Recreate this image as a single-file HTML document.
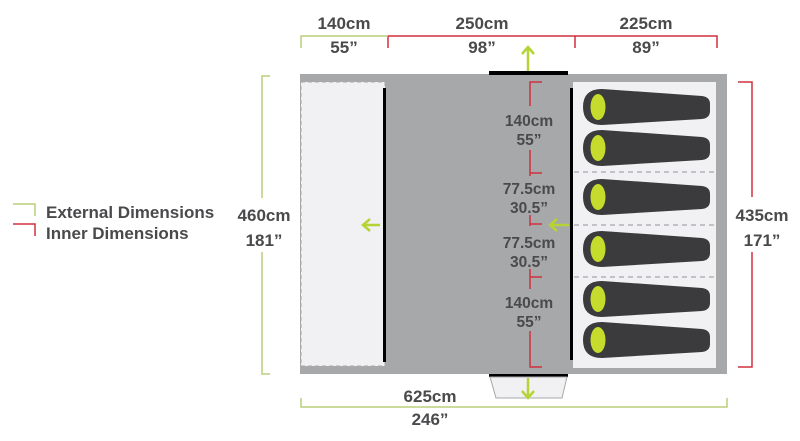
<!DOCTYPE html>
<html><head><meta charset="utf-8"><style>
html,body{margin:0;padding:0;background:#fff}
svg{display:block}
text{font-family:"Liberation Sans",sans-serif;font-weight:bold;fill:#4a4a4c}
</style></head><body>
<svg width="800" height="441" viewBox="0 0 800 441" xmlns="http://www.w3.org/2000/svg">
<defs>
<g id="bag">
<path d="M602,-18 L702,-11 Q710,-10 710,-3 L710,4 Q710,11 702,12 L602,18 Q583,18 583,0 Q583,-18 602,-18 Z" fill="#3b3b3d"/>
<ellipse cx="598" cy="0" rx="7.5" ry="13" fill="#c5dc2c"/>
</g>
</defs>
<rect x="300" y="74" width="427" height="300" fill="#a7a8aa"/>
<rect x="301" y="82" width="84" height="284" fill="#f1f1f3" stroke="#a7a8aa" stroke-dasharray="4,3"/>
<rect x="573" y="82" width="143" height="286" fill="#f1f1f3"/>
<g stroke="#a7a8aa" stroke-width="1.2" stroke-dasharray="5,4">
<line x1="574" y1="172" x2="716" y2="172"/>
<line x1="574" y1="225" x2="716" y2="225"/>
<line x1="574" y1="277" x2="716" y2="277"/>
</g>
<rect x="383" y="88" width="3" height="274" fill="#000"/>
<rect x="570" y="88" width="3" height="272" fill="#000"/>
<rect x="489" y="71" width="79" height="4" fill="#000"/>
<rect x="489" y="374" width="79" height="3" fill="#000"/>
<path d="M490,377 L567,377 L562,398 L496,398 Z" fill="#f1f1f3" stroke="#a7a8aa"/>
<use href="#bag" y="107"/><use href="#bag" y="148"/><use href="#bag" y="197"/>
<use href="#bag" y="249"/><use href="#bag" y="299"/><use href="#bag" y="340"/>
<g stroke="#b5d334" stroke-width="2.5" fill="none">
<line x1="528" y1="71" x2="528" y2="48"/><polyline points="522,54 528,47 534,54"/>
<line x1="380" y1="225" x2="364" y2="225"/><polyline points="370,219 363,225 370,231"/>
<line x1="569" y1="225" x2="551" y2="225"/><polyline points="557,219 550,225 557,231"/>
<line x1="528" y1="378" x2="528" y2="397"/><polyline points="522,391 528,398 534,391"/>
</g>
<g stroke="#d0303f" stroke-width="1.5" fill="none">
<polyline points="542,82 530,82 530,106"/>
<line x1="530" y1="150" x2="530" y2="176"/><line x1="530" y1="173" x2="542" y2="173"/>
<line x1="530" y1="215" x2="530" y2="226"/><line x1="530" y1="224" x2="542" y2="224"/>
<line x1="530" y1="269" x2="530" y2="289"/><line x1="530" y1="277" x2="542" y2="277"/>
<polyline points="530,331 530,367 542,367"/>
<polyline points="388,48 388,36 575,36 575,48"/>
<polyline points="575,36 717,36 717,48"/>
<polyline points="738,82 752,82 752,197"/>
<polyline points="752,252 752,367 738,367"/>
</g>
<g stroke="#b9cf7a" stroke-width="1.5" fill="none">
<polyline points="301,48 301,36 388,36"/>
<polyline points="270,76 262,76 262,198"/>
<polyline points="262,252 262,374 270,374"/>
<polyline points="301,398 301,407 727,407 727,398"/>
<polyline points="13,204 35,204 35,216"/>
</g>
<polyline points="13,224 35,224 35,236" stroke="#d0303f" stroke-width="1.5" fill="none"/>
<g font-size="17" text-anchor="middle">
<text x="344" y="29">140cm</text><text x="344" y="53">55”</text>
<text x="482" y="29">250cm</text><text x="482" y="53">98”</text>
<text x="646" y="29">225cm</text><text x="646" y="53">89”</text>
<text x="264" y="221">460cm</text><text x="264" y="246">181”</text>
<text x="762" y="221">435cm</text><text x="762" y="246">171”</text>
<text x="430" y="402">625cm</text><text x="430" y="425">246”</text>
</g>
<g font-size="15.5" text-anchor="middle">
<text x="529" y="126">140cm</text><text x="529" y="145">55”</text>
<text x="529" y="194">77.5cm</text><text x="529" y="213">30.5”</text>
<text x="529" y="248">77.5cm</text><text x="529" y="267">30.5”</text>
<text x="529" y="308">140cm</text><text x="529" y="327">55”</text>
</g>
<text x="46" y="218" font-size="17">External Dimensions</text>
<text x="46" y="239" font-size="17">Inner Dimensions</text>
</svg>
</body></html>
